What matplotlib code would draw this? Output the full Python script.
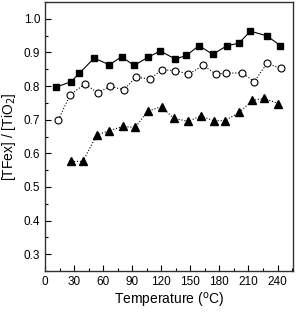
import numpy as np
import matplotlib
matplotlib.use('Agg')
import matplotlib.pyplot as plt
from matplotlib.ticker import MultipleLocator

plt.rcParams['font.family'] = ['Liberation Sans', 'DejaVu Sans']

# squares (solid line)
sq_x = [11, 27, 35.5, 50.7, 66.5, 79, 92, 106, 119, 134.5, 146, 159, 173, 188, 200, 212, 229, 243]
sq_y = [0.796, 0.813, 0.838, 0.883, 0.863, 0.887, 0.861, 0.885, 0.904, 0.880, 0.891, 0.920,
        0.894, 0.920, 0.927, 0.963, 0.949, 0.920]

# open circles (dotted)
ci_x = [13.8, 26, 41, 54.5, 67, 81.4, 93.8, 108.6, 120.3, 134.5, 148, 163.4, 176, 187, 203.5, 216, 229, 243.4]
ci_y = [0.700, 0.774, 0.806, 0.780, 0.799, 0.789, 0.826, 0.821, 0.848, 0.846, 0.835, 0.861,
        0.836, 0.838, 0.839, 0.813, 0.867, 0.853]

# triangles (dotted)
tr_x = [27, 39, 53.5, 66, 80.7, 93, 106, 120.3, 132.7, 148, 160.7, 174, 185.5, 200.7, 213.8, 226, 240.7]
tr_y = [0.576, 0.576, 0.655, 0.667, 0.680, 0.677, 0.725, 0.739, 0.704, 0.695, 0.711,
        0.697, 0.697, 0.722, 0.757, 0.763, 0.748]

fig = plt.figure(figsize=(2.96, 3.12), dpi=100)
ax = fig.add_axes([0.152, 0.131, 0.838, 0.863])

ax.plot(sq_x, sq_y, '-', color='black', lw=0.8, marker='s', ms=5, mfc='black', mec='black')
ax.plot(ci_x, ci_y, ':', color='black', lw=0.8, marker='o', ms=5, mfc='white', mec='black', mew=0.8)
ax.plot(tr_x, tr_y, ':', color='black', lw=0.8, marker='^', ms=5.5, mfc='black', mec='black')

ax.set_xlim(0, 256)
ax.set_ylim(0.25, 1.05)
ax.xaxis.set_major_locator(MultipleLocator(30))
ax.xaxis.set_minor_locator(MultipleLocator(15))
ax.yaxis.set_minor_locator(MultipleLocator(0.05))
ax.set_yticks(np.arange(0.3, 1.01, 0.1))
ax.set_yticklabels(['%.1f' % v for v in np.arange(0.3, 1.01, 0.1)])
ax.tick_params(which='both', direction='in', top=False, right=False, labelsize=8.5, width=0.8)
ax.tick_params(which='major', length=4)
ax.tick_params(which='minor', length=2)
for s in ax.spines.values():
    s.set_linewidth(1.0)
    s.set_color('#333333')

ax.set_xlabel('Temperature ($^{\\rm o}$C)', fontsize=10, labelpad=2)
ax.set_ylabel('[TFex] / [TiO$_2$]', fontsize=10, labelpad=4)

fig.savefig('out.png', dpi=100)
